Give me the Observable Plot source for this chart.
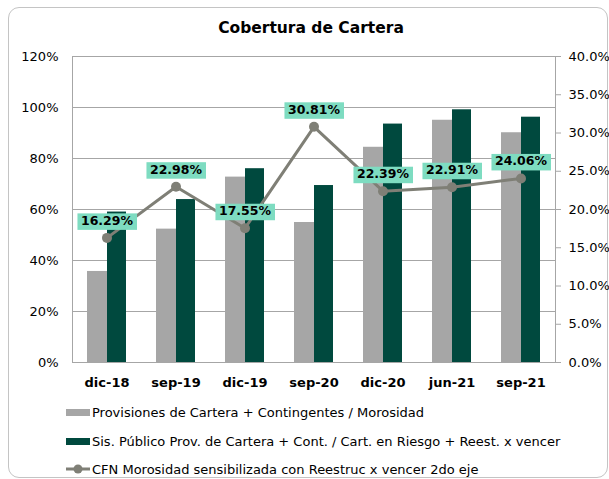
<!DOCTYPE html>
<html><head><meta charset="utf-8">
<script src="https://cdn.jsdelivr.net/npm/d3@7"></script>
<script src="https://cdn.jsdelivr.net/npm/@observablehq/plot@0.6"></script>
<style>
body{margin:0;background:#fff;font-family:"DejaVu Sans",sans-serif;color:#000;}
#wrap{position:relative;width:609px;height:479px;overflow:hidden;}
#frame{position:absolute;left:8px;top:7px;width:600px;height:471px;border:1px solid #c4c4c4;border-radius:11px;box-sizing:border-box;}
#title{position:absolute;left:0;top:17px;width:622px;text-align:center;font-weight:bold;font-size:15.5px;line-height:22px;}
#chart{position:absolute;left:0;top:40px;}
.leg{position:absolute;left:66px;height:20px;font-size:13px;display:flex;align-items:center;white-space:nowrap;}
.sw{display:inline-block;width:24px;height:7px;margin-right:2px;}
</style></head>
<body>
<div id="wrap">
  <div id="frame"></div>
  <div id="title"></div>
  <div id="chart"></div>
  <div id="legend"></div>
</div>
<script>
const titleText = "Cobertura de Cartera";
const categories = ["dic-18","sep-19","dic-19","sep-20","dic-20","jun-21","sep-21"];
const provisiones = [35.7, 52.3, 72.7, 54.9, 84.4, 95.0, 90.1];
const sisPublico = [59.0, 63.9, 76.0, 69.4, 93.5, 99.1, 96.2];
const cfnMorosidad = [16.29, 22.98, 17.55, 30.81, 22.39, 22.91, 24.06];
const leftTicks = [0, 20, 40, 60, 80, 100, 120];
const rightTicks = [0, 5, 10, 15, 20, 25, 30, 35, 40];
const seriesNames = [
  "Provisiones de Cartera + Contingentes / Morosidad",
  "Sis. Público Prov. de Cartera + Cont. / Cart. en Riesgo + Reest. x vencer",
  "CFN Morosidad sensibilizada con Reestruc x vencer 2do eje"
];
const colors = ["#a6a6a6", "#00493e", "#7f7f76"];
const labelFill = "#7edcc1";

document.getElementById("title").textContent = titleText;

const data = categories.map((c, i) => ({cat: c, prov: provisiones[i], sis: sisPublico[i], cfn: cfnMorosidad[i]}));
const k = 120 / 40; // secondary axis factor

const plot = Plot.plot({
  width: 609, height: 356,
  marginLeft: 72, marginRight: 54, marginTop: 16, marginBottom: 34,
  style: {fontFamily: "DejaVu Sans, sans-serif", fontSize: "13px", color: "#000", background: "transparent", overflow: "visible"},
  x: {type: "band", domain: categories, padding: 0},
  y: {domain: [0, 120]},
  marks: [
    Plot.gridY({ticks: leftTicks, stroke: "#a6a6a6", strokeOpacity: 1}),
    Plot.barY(data, {x: "cat", y: "prov", fill: colors[0], insetLeft: 15, insetRight: 34}),
    Plot.barY(data, {x: "cat", y: "sis", fill: colors[1], insetLeft: 35, insetRight: 15}),
    Plot.frame({stroke: "#a6a6a6"}),
    Plot.axisY({ticks: leftTicks, anchor: "left", tickSize: 0, tickPadding: 14, tickFormat: d => d + "%", label: null}),
    Plot.axisY({ticks: rightTicks.map(v => v * k), anchor: "right", tickSize: 5, tickPadding: 8, stroke: "#a6a6a6", fill: "#000", tickFormat: d => (d / k).toFixed(1) + "%", label: null}),
    Plot.axisX({tickSize: 0, tickPadding: 15, fontWeight: "bold", label: null}),
    Plot.line(data, {x: "cat", y: d => d.cfn * k, stroke: colors[2], strokeWidth: 3}),
    Plot.dot(data, {x: "cat", y: d => d.cfn * k, r: 5, fill: colors[2]}),
    Plot.text(data, {x: "cat", y: d => d.cfn * k, dy: -17, text: d => d.cfn.toFixed(2) + "%", fontWeight: "bold", fontSize: 12.5, fill: "#000"})
  ]
});
document.getElementById("chart").append(plot);

// background boxes behind the data labels
d3.select(plot).selectAll('g[aria-label="text"] text').each(function() {
  const b = this.getBBox();
  const r = document.createElementNS("http://www.w3.org/2000/svg", "rect");
  r.setAttribute("x", b.x - 3.5);
  r.setAttribute("y", b.y + 0.5);
  r.setAttribute("width", b.width + 7);
  r.setAttribute("height", b.height + 1.5);
  r.setAttribute("fill", labelFill);
  const t = this.getAttribute("transform");
  if (t) r.setAttribute("transform", t);
  this.parentNode.insertBefore(r, this);
});

// legend
const legend = document.getElementById("legend");
const rowTops = [402, 431, 459];
seriesNames.forEach((name, i) => {
  const row = document.createElement("div");
  row.className = "leg";
  row.style.top = rowTops[i] + "px";
  if (i < 2) {
    const sw = document.createElement("span");
    sw.className = "sw";
    sw.style.background = colors[i];
    row.append(sw);
  } else {
    const svg = d3.create("svg").attr("width", 24).attr("height", 12).style("margin-right", "2px");
    svg.append("line").attr("x1", 0).attr("x2", 24).attr("y1", 6).attr("y2", 6).attr("stroke", colors[2]).attr("stroke-width", 3);
    svg.append("circle").attr("cx", 12).attr("cy", 6).attr("r", 4.5).attr("fill", colors[2]);
    row.append(svg.node());
  }
  const tx = document.createElement("span");
  tx.textContent = name;
  row.append(tx);
  legend.append(row);
});
</script>
</body></html>
